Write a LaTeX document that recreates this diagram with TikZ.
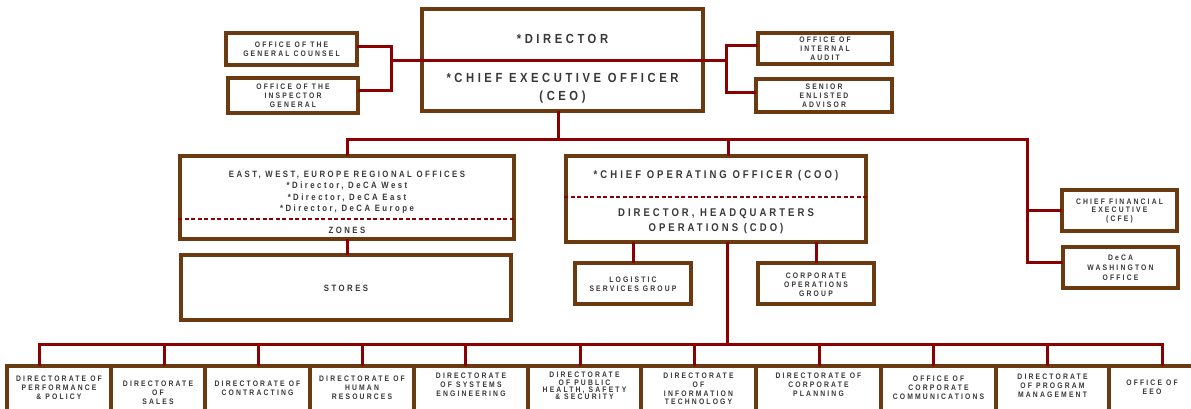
\documentclass[tikz,border=0pt]{standalone}
\usepackage{fontspec}
\newfontfamily\lbl{Liberation Sans}[LetterSpace=27,FakeStretch=0.85]
\definecolor{boxbrown}{HTML}{6B3A10}
\definecolor{linkred}{HTML}{8B0000}
\definecolor{ink}{HTML}{383838}
\tikzset{
  box/.style={draw=boxbrown, line width=3.2pt, fill=white, inner sep=0pt},
  link/.style={draw=linkred, line width=3pt, line cap=rect},
  divider/.style={draw=linkred, line width=2.8pt, dash pattern=on 4pt off 2.5pt},
  txs/.style={font=\lbl\bfseries\fontsize{8}{8.8}\selectfont, text=ink, align=center, inner sep=0pt},
  txm/.style={font=\lbl\bfseries\fontsize{9.15}{11.5}\selectfont, text=ink, align=center, inner sep=0pt},
  txl/.style={font=\lbl\bfseries\fontsize{11.2}{15}\selectfont, text=ink, align=center, inner sep=0pt},
  txx/.style={font=\lbl\bfseries\fontsize{13.2}{18}\selectfont, text=ink, align=center, inner sep=0pt},
}
\begin{document}
\begin{tikzpicture}[x=1pt,y=-1pt]
\useasboundingbox[fill=white] (0,0) rectangle (1191,409);

% ---- executive level ----
\node[box, minimum width=281, minimum height=102] (ceo) at (562.5,60) {};
\node[txx] (ceoA) at (562.5,39) {*DIRECTOR};
\node[txx] (ceoB) at (562.5,88) {*CHIEF EXECUTIVE OFFICER\\(CEO)};

\node[box, minimum width=131, minimum height=32] (gc) at (291.5,49) {};
\node[txs] (gcT) at (291.5,49.5) {OFFICE OF THE\\GENERAL COUNSEL};
\node[box, minimum width=130, minimum height=35] (ig) at (293,95.5) {};
\node[txs] (igT) at (293,96) {OFFICE OF THE\\INSPECTOR\\GENERAL};

\node[box, minimum width=134, minimum height=31] (ia) at (825,48.5) {};
\node[txs] (iaT) at (825,48.5) {OFFICE OF\\INTERNAL\\AUDIT};
\node[box, minimum width=136, minimum height=33] (sea) at (824,95.5) {};
\node[txs] (seaT) at (824,95.5) {SENIOR\\ENLISTED\\ADVISOR};

% ---- second level ----
\node[box, minimum width=334, minimum height=83] (reg) at (347,197.5) {};
\node[txm] (regT) at (347,192.5) {EAST, WEST, EUROPE REGIONAL OFFICES\\*Director, DeCA West\\*Director, DeCA East\\*Director, DeCA Europe};
\node[txm] (zones) at (347,230) {ZONES};
\node[box, minimum width=330, minimum height=65] (stores) at (346,287.5) {};
\node[txm] (storesT) at (346,288) {STORES};

\node[box, minimum width=300, minimum height=86] (coo) at (716,199) {};
\node[txl] (cooA) at (716,176) {*CHIEF OPERATING OFFICER (COO)};
\node[txl] (cooB) at (716,221.5) {DIRECTOR, HEADQUARTERS\\OPERATIONS (CDO)};

\node[box, minimum width=116, minimum height=41] (lsg) at (633,283.5) {};
\node[txs] (lsgT) at (633,284) {LOGISTIC\\SERVICES GROUP};
\node[box, minimum width=116, minimum height=41] (cog) at (816,283.5) {};
\node[txs] (cogT) at (816,284.5) {CORPORATE\\OPERATIONS\\GROUP};

\node[box, minimum width=115, minimum height=41] (cfe) at (1119.5,210.5) {};
\node[txs] (cfeT) at (1119.5,211) {CHIEF FINANCIAL\\EXECUTIVE\\(CFE)};
\node[box, minimum width=115, minimum height=41] (wash) at (1120.5,267.5) {};
\node[txs, font=\lbl\bfseries\fontsize{8}{10}\selectfont] (washT) at (1120.5,268) {DeCA\\WASHINGTON\\OFFICE};

% ---- directorates ----
\foreach \i/\cx/\w/\ty/\t in {
  1/59/104/388/{DIRECTORATE OF\\PERFORMANCE\\\& POLICY},
  2/158/94/393/{DIRECTORATE\\OF\\SALES},
  3/257.5/105/388/{DIRECTORATE OF\\CONTRACTING},
  4/362/104/388/{DIRECTORATE OF\\HUMAN\\RESOURCES},
  5/471/114/385/{DIRECTORATE\\OF SYSTEMS\\ENGINEERING},
  7/698.5/115/389/{DIRECTORATE\\OF\\INFORMATION\\TECHNOLOGY},
  8/818.5/125/385/{DIRECTORATE OF\\CORPORATE\\PLANNING},
  9/938.5/115/388/{OFFICE OF\\CORPORATE\\COMMUNICATIONS},
  10/1052.5/113/385.5/{DIRECTORATE\\OF PROGRAM\\MANAGEMENT},
  11/1152/86/387.5/{OFFICE OF\\EEO}}
{
  \node[box, minimum width=\w, minimum height=45] (b\i) at (\cx,388.5) {};
  \node[txs] (b\i T) at (\cx,\ty) {\t};
}
\node[box, minimum width=113, minimum height=45] (b6) at (584.5,388.5) {};
\node[txs, font=\lbl\bfseries\fontsize{8}{7.4}\selectfont] (b6T) at (584.5,386) {DIRECTORATE\\OF PUBLIC\\HEALTH, SAFETY\\\& SECURITY};

% ---- dividers inside the split boxes ----
\coordinate (regcut) at (347,219);
\draw[divider] (regcut -| reg.west) -- (regcut -| reg.east);
\coordinate (coocut) at (716,197);
\draw[divider] (coocut -| coo.west) -- (coocut -| coo.east);

% ---- staff offices beside the CEO ----
\coordinate (lbt) at (391,47);
\coordinate (lbb) at (391,91);
\coordinate (lbc) at (391,61);
\coordinate (rbt) at (726,46);
\coordinate (rbb) at (726,93);
\coordinate (rbc) at (726,61);
\draw[link] (gc.east |- lbt) -- (lbt) -- (lbb) -- (ig.east |- lbb);
\draw[link] (ia.west |- rbt) -- (rbt) -- (rbb) -- (sea.west |- rbb);
\draw[link] (lbc) -- (rbc);

% ---- CEO to second level ----
\coordinate (hub) at (558,140);
\coordinate (rt) at (1027,140);
\coordinate (rb) at (1027,262);
\coordinate (cootop) at (728,140);
\draw[link] (hub |- ceo.south) -- (hub);
\draw[link] (reg.north) |- (rt) -- (rb) -- (wash.west |- rb);
\draw[link] (cfe.west) -- (cfe.west -| rt);
\draw[link] (cootop) -- (cootop |- coo.north);
\draw[link] (reg.south) -- (reg.south |- stores.north);
\draw[link] (coo.south -| lsg.north) -- (lsg.north);
\draw[link] (coo.south -| cog.north) -- (cog.north);

% ---- COO to directorates ----
\coordinate (bus) at (727,344);
\draw[link] (bus |- coo.south) -- (bus);
\foreach \i/\x in {1/39,2/164,3/258,4/362,5/465,6/580,7/694,8/819,9/933,10/1047,11/1162}
{
  \coordinate (d\i) at (\x,344);
  \draw[link] (d\i) -- (d\i |- b\i.north);
}
\draw[link] (d1) -- (d11);
\end{tikzpicture}
\end{document}
